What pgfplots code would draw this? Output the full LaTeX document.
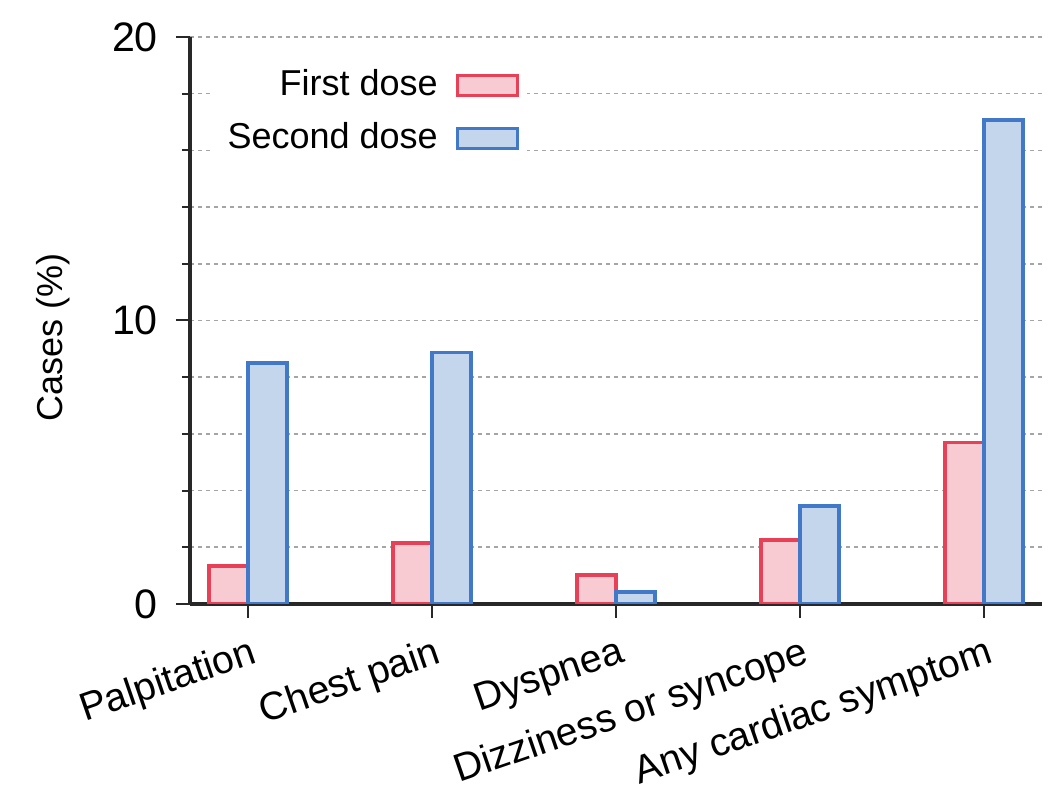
\documentclass[border=0pt]{standalone}
\usepackage{pgfplots}
\pgfplotsset{compat=1.18}
\usepackage{fontspec}
\setmainfont{Liberation Sans}
\definecolor{fillA}{RGB}{248,203,210}
\definecolor{edgeA}{RGB}{232,64,86}
\definecolor{fillB}{RGB}{196,214,235}
\definecolor{edgeB}{RGB}{66,120,200}
\definecolor{gridc}{RGB}{165,165,165}
\definecolor{axc}{RGB}{40,40,40}
\begin{document}
\begin{tikzpicture}
\begin{axis}[
  name=ax,
  scale only axis,
  width=213pt, height=141.75pt,
  xmin=-0.315, xmax=4.315,
  ymin=0, ymax=20,
  axis x line=bottom, axis y line=left,
  axis line style={-, axc, line width=1pt},
  xtick={0,1,2,3,4},
  xticklabels={Palpitation,Chest pain,Dyspnea,Dizziness or syncope,Any cardiac symptom},
  xticklabel style={rotate=19, anchor=north east, font=\fontsize{9.8}{11}\selectfont, inner sep=1pt, yshift=-3pt},
  ytick={0,10,20},
  minor ytick={2,4,6,8,12,14,16,18},
  yticklabel style={font=\fontsize{10.3}{12}\selectfont, xshift=-1pt},
  /pgf/number format/assume math mode=true,
  tick align=outside,
  major tick length=3.5pt,
  minor tick length=2pt,
  tick style={axc, line width=0.5pt},
  ymajorgrids, yminorgrids,
  major grid style={gridc, line width=0.4pt, dash pattern=on 1pt off 1pt},
  minor grid style={gridc, line width=0.4pt, dash pattern=on 1pt off 1pt},
  ylabel={Cases (\%)},
  ylabel style={at={(axis description cs:-0.16,0.47)}, anchor=center, rotate=0, font=\fontsize{9}{11}\selectfont},
  legend style={at={(axis description cs:0.3967,0.972)}, anchor=north east, draw=none, fill=white,
    font=\fontsize{9}{11}\selectfont, legend cell align=right, row sep=1.2pt, inner sep=2pt},
  legend plot pos=right,
  legend image code/.code={\path (0pt,0pt); \draw[#1] (2.5pt,-2.5pt) rectangle (17.5pt,2.5pt);},
]
\addplot[ybar, bar width=0.212, bar shift=-0.106, draw=edgeA, fill=fillA, line width=0.85pt]
  coordinates {(0,1.34) (1,2.15) (2,1.02) (3,2.26) (4,5.7)};
\addlegendentry{First dose}
\addplot[ybar, bar width=0.212, bar shift=0.106, draw=edgeB, fill=fillB, line width=0.85pt]
  coordinates {(0,8.5) (1,8.88) (2,0.42) (3,3.46) (4,17.07)};
\addlegendentry{Second dose}
\end{axis}
\path (ax.south west) ++(-47.5pt,-46.25pt) rectangle ++(265pt,197.25pt);
\end{tikzpicture}
\end{document}
